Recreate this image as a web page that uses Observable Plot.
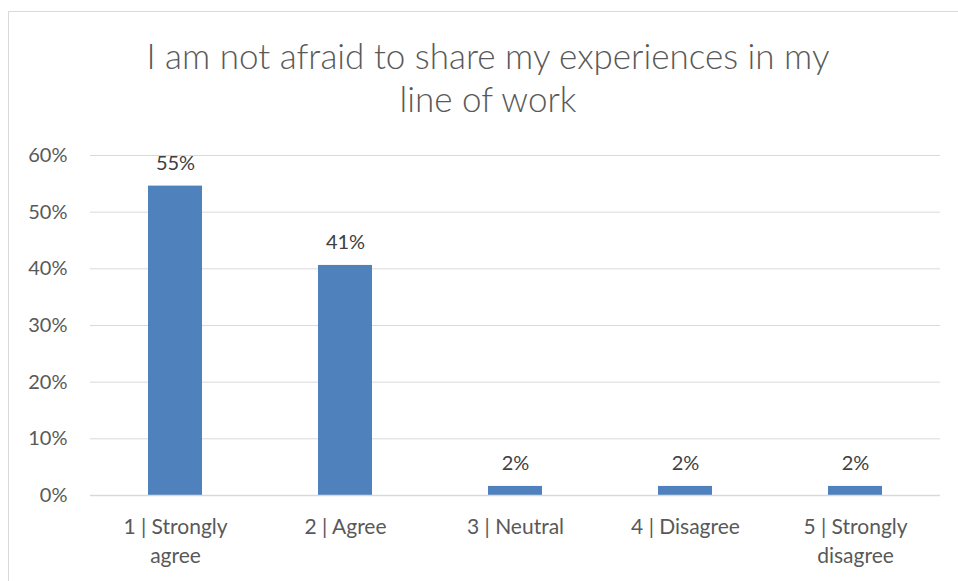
<!DOCTYPE html>
<html>
<head>
<meta charset="utf-8">
<script src="https://cdn.jsdelivr.net/npm/d3@7"></script>
<script src="https://cdn.jsdelivr.net/npm/@observablehq/plot@0.6"></script>
<style>
  html, body { margin: 0; padding: 0; background: #fff; overflow: hidden; }
  #wrap { position: relative; width: 958px; height: 581px; }
  #frame { position: absolute; left: 8px; top: 11px; width: 1000px; height: 700px; border: 1px solid #d9d9d9; box-sizing: border-box; }
  #title { position: absolute; left: 0; width: 976px; top: 34px; text-align: center; font-family: Lato, "Open Sans", sans-serif; font-size: 35px; line-height: 43px; color: #595959; font-weight: 300; }
  #chart { position: absolute; left: 0; top: 0; }
</style>
</head>
<body>
<div id="wrap">
  <div id="frame"></div>
  <div id="chart"></div>
  <div id="title">I am not afraid to share my experiences in my<br>line of work</div>
</div>
<script>
const categories = ["1 | Strongly agree", "2 | Agree", "3 | Neutral", "4 | Disagree", "5 | Strongly disagree"];
const tickLabels = ["1 | Strongly\nagree", "2 | Agree", "3 | Neutral", "4 | Disagree", "5 | Strongly\ndisagree"];
const values = [0.546, 0.406, 0.016, 0.016, 0.016];
const yTicks = [0, 0.1, 0.2, 0.3, 0.4, 0.5, 0.6];

const data = categories.map((c, i) => ({category: c, value: values[i]}));
const labelOf = new Map(categories.map((c, i) => [c, tickLabels[i]]));
const fontFam = "Lato, 'Open Sans', sans-serif";

const chart = Plot.plot({
  width: 958,
  height: 581,
  marginLeft: 90,
  marginRight: 18,
  marginTop: 155,
  marginBottom: 86,
  style: {fontFamily: fontFam, background: "transparent", color: "#595959"},
  x: {domain: categories, paddingInner: 0.68, paddingOuter: 0.34, label: null},
  y: {domain: [0, 0.6], label: null},
  marks: [
    Plot.gridY(yTicks, {stroke: "#d9d9d9", strokeOpacity: 1, strokeWidth: 1}),
    Plot.axisY({ticks: yTicks, tickFormat: d3.format(".0%"), tickSize: 0, tickPadding: 23, fontSize: 20, fill: "#595959", label: null}),
    Plot.axisX({tickFormat: d => labelOf.get(d), tickSize: 0, tickPadding: 18, fontSize: 21, fill: "#595959", lineHeight: 1.38, label: null}),
    Plot.barY(data, {x: "category", y: "value", fill: "#4f81bd"}),
    Plot.ruleY([0], {stroke: "#d9d9d9", strokeWidth: 1.5}),
    Plot.text(data, {x: "category", y: "value", text: d => d3.format(".0%")(d.value), dy: -23, fontSize: 20, fill: "#404040"})
  ]
});
document.getElementById("chart").appendChild(chart);
</script>
</body>
</html>
